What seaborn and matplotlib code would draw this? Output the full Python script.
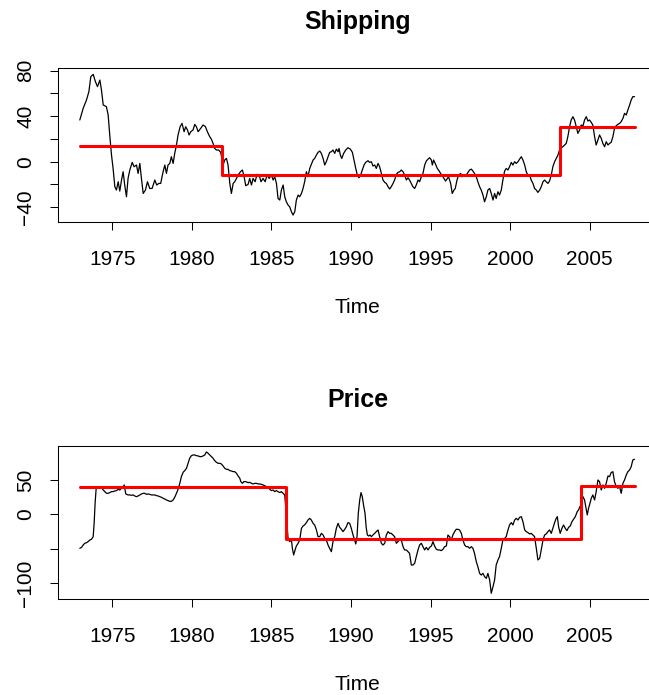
import numpy as np
import pandas as pd
import matplotlib
matplotlib.use("Agg")
import matplotlib.pyplot as plt
import seaborn as sns

# Shipping: time series (roughly monthly)
shipping_years = [
    1972.97, 1973.18, 1973.39, 1973.54, 1973.66, 1973.81, 1973.95, 1974.08, 1974.23, 1974.33,
    1974.44, 1974.64, 1974.75, 1974.85, 1974.96, 1975.06, 1975.17, 1975.27, 1975.38, 1975.48,
    1975.59, 1975.69, 1975.79, 1975.90, 1976.00, 1976.11, 1976.26, 1976.38, 1976.53, 1976.63,
    1976.74, 1976.84, 1976.95, 1977.09, 1977.22, 1977.36, 1977.51, 1977.68, 1977.80, 1977.93,
    1978.05, 1978.20, 1978.31, 1978.41, 1978.51, 1978.62, 1978.72, 1978.83, 1978.93, 1979.04,
    1979.14, 1979.27, 1979.39, 1979.52, 1979.62, 1979.73, 1979.83, 1979.94, 1980.08, 1980.19,
    1980.29, 1980.40, 1980.56, 1980.71, 1980.86, 1980.98, 1981.13, 1981.23, 1981.34, 1981.44,
    1981.55, 1981.69, 1981.82, 1981.97, 1982.07, 1982.18, 1982.28, 1982.39, 1982.49, 1982.60,
    1982.70, 1982.81, 1982.91, 1983.06, 1983.18, 1983.27, 1983.39, 1983.54, 1983.64, 1983.75,
    1983.85, 1983.98, 1984.10, 1984.23, 1984.35, 1984.48, 1984.61, 1984.73, 1984.86, 1985.00,
    1985.11, 1985.21, 1985.32, 1985.42, 1985.53, 1985.63, 1985.74, 1985.84, 1985.94, 1986.05,
    1986.15, 1986.26, 1986.36, 1986.47, 1986.57, 1986.68, 1986.78, 1986.89, 1986.99, 1987.09,
    1987.20, 1987.30, 1987.41, 1987.51, 1987.62, 1987.72, 1987.83, 1987.93, 1988.04, 1988.14,
    1988.25, 1988.35, 1988.45, 1988.56, 1988.66, 1988.77, 1988.87, 1988.98, 1989.08, 1989.19,
    1989.25, 1989.33, 1989.42, 1989.54, 1989.67, 1989.81, 1989.96, 1990.09, 1990.19, 1990.30,
    1990.40, 1990.50, 1990.61, 1990.71, 1990.82, 1990.92, 1991.07, 1991.17, 1991.28, 1991.38,
    1991.49, 1991.59, 1991.70, 1991.80, 1991.91, 1992.01, 1992.12, 1992.22, 1992.33, 1992.43,
    1992.53, 1992.64, 1992.74, 1992.85, 1992.95, 1993.06, 1993.16, 1993.27, 1993.37, 1993.48,
    1993.58, 1993.68, 1993.79, 1993.89, 1994.00, 1994.10, 1994.21, 1994.31, 1994.42, 1994.52,
    1994.63, 1994.73, 1994.84, 1994.94, 1995.05, 1995.11, 1995.19, 1995.29, 1995.42, 1995.50,
    1995.63, 1995.71, 1995.84, 1995.94, 1996.05, 1996.13, 1996.26, 1996.36, 1996.47, 1996.55,
    1996.66, 1996.76, 1996.89, 1996.97, 1997.10, 1997.24, 1997.35, 1997.45, 1997.56, 1997.66,
    1997.76, 1997.87, 1997.97, 1998.08, 1998.18, 1998.29, 1998.39, 1998.50, 1998.60, 1998.71,
    1998.81, 1998.92, 1999.02, 1999.12, 1999.23, 1999.33, 1999.44, 1999.54, 1999.65, 1999.75,
    1999.86, 1999.96, 2000.07, 2000.17, 2000.28, 2000.38, 2000.49, 2000.59, 2000.70, 2000.80,
    2000.91, 2001.01, 2001.12, 2001.22, 2001.32, 2001.43, 2001.53, 2001.64, 2001.74, 2001.85,
    2001.95, 2002.06, 2002.16, 2002.26, 2002.37, 2002.47, 2002.58, 2002.68, 2002.79, 2002.89,
    2003.00, 2003.10, 2003.21, 2003.31, 2003.42, 2003.52, 2003.62, 2003.73, 2003.83, 2003.94,
    2004.04, 2004.15, 2004.25, 2004.36, 2004.46, 2004.57, 2004.67, 2004.78, 2004.88, 2004.98,
    2005.09, 2005.19, 2005.30, 2005.40, 2005.51, 2005.61, 2005.72, 2005.82, 2005.93, 2006.03,
    2006.14, 2006.24, 2006.34, 2006.45, 2006.55, 2006.66, 2006.76, 2006.87, 2006.97, 2007.08,
    2007.18, 2007.29, 2007.39, 2007.50, 2007.60, 2007.70, 2007.81,
]
shipping_values = [
    36.7, 46.9, 54.3, 61.6, 74.8, 76.8, 70.4, 66.0, 71.8, 63.0,
    49.9, 48.4, 41.1, 23.5, 5.9, -5.9, -22.0, -24.9, -17.6, -25.8,
    -16.1, -8.8, -20.5, -30.8, -14.7, -7.3, -0.6, -4.4, -2.9, -10.3,
    -1.5, -14.7, -27.9, -24.9, -17.6, -23.5, -23.5, -16.1, -20.5, -19.1,
    -19.1, -8.8, -2.9, -10.3, -2.9, -1.5, 4.4, -1.5, 7.3, 14.7,
    23.5, 30.8, 33.7, 26.4, 30.8, 27.9, 23.5, 26.4, 27.9, 32.8,
    30.8, 26.4, 29.3, 32.3, 30.8, 26.4, 22.0, 19.9, 16.1, 11.7,
    10.3, 10.3, 8.2, -2.9, 1.5, 2.9, -2.9, -19.1, -27.9, -19.1,
    -17.6, -14.7, -11.7, -8.8, -7.3, -11.7, -21.1, -19.9, -14.7, -20.5,
    -14.7, -17.6, -11.1, -11.7, -17.6, -14.7, -17.6, -11.7, -14.7, -11.7,
    -16.1, -13.2, -19.1, -32.3, -33.7, -24.9, -20.5, -30.8, -35.2, -38.1,
    -39.6, -44.0, -46.9, -44.0, -33.7, -29.3, -30.8, -27.9, -23.5, -17.6,
    -8.8, -13.2, -5.9, -2.3, 1.5, 2.9, 5.9, 8.2, 9.4, 7.3,
    2.9, -2.9, 0.0, 4.4, 8.2, 8.8, 10.3, 7.3, 11.1, 8.8,
    11.7, 5.9, 2.9, 7.3, 10.3, 12.3, 11.1, 8.2, 1.5, -5.9,
    -11.7, -14.1, -11.7, -7.3, -2.9, -0.6, 0.9, -0.6, 0.0, -3.8,
    -2.9, -5.9, -1.5, -4.4, -10.3, -16.1, -18.2, -19.1, -22.0, -24.0,
    -22.0, -19.1, -16.1, -11.1, -9.4, -8.8, -7.3, -8.8, -11.7, -16.1,
    -14.1, -16.1, -19.1, -22.0, -23.5, -20.5, -16.1, -17.6, -13.2, -10.3,
    -2.9, 0.6, 2.3, 3.5, 1.5, -2.9, 1.5, -1.5, -5.9, -7.3,
    -10.3, -11.7, -14.7, -17.0, -14.7, -13.2, -19.1, -27.9, -24.9, -23.5,
    -16.1, -11.7, -10.3, -13.2, -11.7, -11.7, -9.4, -7.3, -6.5, -8.2,
    -10.3, -13.2, -17.6, -22.0, -24.9, -29.3, -35.2, -30.8, -24.9, -23.5,
    -27.9, -33.7, -27.9, -32.3, -26.4, -29.3, -24.9, -16.1, -8.2, -5.9,
    -7.3, -4.4, -0.6, -2.9, 0.0, -1.5, 0.0, 2.3, 4.4, 1.5,
    -2.9, -8.8, -12.3, -11.7, -16.1, -19.1, -23.5, -24.9, -27.0, -24.9,
    -22.0, -17.6, -16.1, -17.6, -19.1, -17.0, -11.7, -4.4, 0.0, 2.9,
    5.9, 10.3, 12.3, 13.2, 14.7, 16.1, 22.0, 30.8, 36.7, 39.6,
    36.7, 30.8, 24.9, 27.9, 32.3, 31.4, 36.7, 39.6, 35.8, 36.7,
    34.6, 32.3, 22.0, 14.7, 19.1, 23.5, 20.5, 16.1, 13.2, 17.6,
    14.7, 16.1, 17.0, 22.0, 29.3, 31.7, 32.8, 33.7, 35.2, 38.1,
    42.5, 41.1, 45.5, 49.9, 54.3, 57.2, 57.2,
]
# Shipping: fitted step levels and break dates
shipping_breaks = [1981.87, 2003.12]
shipping_levels = [13.5, -11.8, 30.2]

# Price: time series
price_years = [
    1972.97, 1973.08, 1973.18, 1973.28, 1973.39, 1973.49, 1973.60, 1973.70, 1973.81, 1973.87,
    1973.93, 1974.00, 1974.12, 1974.23, 1974.33, 1974.44, 1974.54, 1974.65, 1974.75, 1974.85,
    1974.96, 1975.06, 1975.17, 1975.27, 1975.38, 1975.48, 1975.59, 1975.69, 1975.76, 1975.79,
    1975.86, 1976.00, 1976.11, 1976.21, 1976.32, 1976.42, 1976.53, 1976.63, 1976.74, 1976.84,
    1976.95, 1977.05, 1977.15, 1977.26, 1977.36, 1977.47, 1977.57, 1977.68, 1977.78, 1977.89,
    1977.99, 1978.10, 1978.20, 1978.31, 1978.41, 1978.51, 1978.62, 1978.72, 1978.83, 1978.93,
    1979.04, 1979.14, 1979.25, 1979.35, 1979.46, 1979.56, 1979.67, 1979.77, 1979.87, 1979.98,
    1980.08, 1980.19, 1980.29, 1980.40, 1980.50, 1980.61, 1980.71, 1980.82, 1980.92, 1981.03,
    1981.13, 1981.24, 1981.34, 1981.44, 1981.55, 1981.65, 1981.76, 1981.86, 1981.97, 1982.07,
    1982.18, 1982.28, 1982.39, 1982.49, 1982.60, 1982.70, 1982.81, 1982.91, 1983.02, 1983.08,
    1983.18, 1983.27, 1983.39, 1983.54, 1983.64, 1983.75, 1983.85, 1983.96, 1984.06, 1984.17,
    1984.27, 1984.38, 1984.48, 1984.58, 1984.69, 1984.79, 1984.90, 1985.00, 1985.11, 1985.21,
    1985.32, 1985.42, 1985.53, 1985.63, 1985.74, 1985.84, 1985.90, 1985.99, 1986.05, 1986.15,
    1986.26, 1986.32, 1986.40, 1986.49, 1986.57, 1986.68, 1986.78, 1986.89, 1986.99, 1987.09,
    1987.20, 1987.30, 1987.41, 1987.51, 1987.62, 1987.72, 1987.83, 1987.93, 1988.04, 1988.14,
    1988.25, 1988.35, 1988.45, 1988.56, 1988.66, 1988.77, 1988.87, 1988.98, 1989.08, 1989.19,
    1989.29, 1989.40, 1989.50, 1989.61, 1989.71, 1989.81, 1989.92, 1990.02, 1990.13, 1990.23,
    1990.30, 1990.38, 1990.46, 1990.55, 1990.63, 1990.71, 1990.80, 1990.88, 1990.96, 1991.03,
    1991.11, 1991.20, 1991.28, 1991.38, 1991.49, 1991.59, 1991.70, 1991.80, 1991.91, 1992.01,
    1992.12, 1992.22, 1992.33, 1992.43, 1992.53, 1992.64, 1992.74, 1992.85, 1992.95, 1993.06,
    1993.16, 1993.27, 1993.37, 1993.48, 1993.58, 1993.68, 1993.79, 1993.89, 1994.00, 1994.10,
    1994.21, 1994.31, 1994.42, 1994.52, 1994.63, 1994.73, 1994.84, 1994.94, 1995.05, 1995.15,
    1995.25, 1995.36, 1995.46, 1995.57, 1995.67, 1995.78, 1995.88, 1995.99, 1996.09, 1996.19,
    1996.30, 1996.40, 1996.51, 1996.61, 1996.72, 1996.82, 1996.93, 1997.03, 1997.14, 1997.24,
    1997.35, 1997.45, 1997.56, 1997.66, 1997.76, 1997.87, 1997.97, 1998.08, 1998.18, 1998.29,
    1998.39, 1998.50, 1998.60, 1998.71, 1998.81, 1998.92, 1999.02, 1999.12, 1999.23, 1999.33,
    1999.44, 1999.54, 1999.65, 1999.75, 1999.86, 1999.96, 2000.07, 2000.17, 2000.28, 2000.38,
    2000.49, 2000.59, 2000.70, 2000.80, 2000.91, 2001.01, 2001.12, 2001.22, 2001.32, 2001.43,
    2001.53, 2001.64, 2001.74, 2001.85, 2001.95, 2002.06, 2002.16, 2002.26, 2002.37, 2002.47,
    2002.58, 2002.68, 2002.79, 2002.89, 2002.96, 2003.04, 2003.14, 2003.25, 2003.35, 2003.46,
    2003.56, 2003.67, 2003.77, 2003.88, 2003.98, 2004.09, 2004.21, 2004.29, 2004.38, 2004.46,
    2004.57, 2004.67, 2004.78, 2004.84, 2004.92, 2005.01, 2005.09, 2005.19, 2005.30, 2005.40,
    2005.51, 2005.61, 2005.72, 2005.82, 2005.93, 2006.03, 2006.14, 2006.24, 2006.34, 2006.45,
    2006.55, 2006.66, 2006.76, 2006.87, 2006.97, 2007.08, 2007.18, 2007.29, 2007.39, 2007.50,
    2007.60, 2007.70, 2007.81,
]
price_values = [
    -49.5, -48.1, -44.7, -42.2, -41.3, -39.8, -37.4, -36.4, -32.5, -13.1,
    16.0, 38.8, 39.3, 40.3, 39.3, 35.4, 33.0, 30.6, 30.6, 31.6,
    33.0, 33.0, 34.0, 34.5, 36.4, 35.4, 37.9, 40.3, 42.7, 37.9,
    29.6, 28.2, 28.2, 27.7, 28.2, 26.7, 25.7, 26.7, 28.2, 29.6,
    30.6, 30.6, 29.1, 29.6, 29.1, 28.2, 28.2, 28.2, 27.2, 26.7,
    25.7, 24.8, 23.3, 22.3, 20.9, 19.9, 18.9, 18.9, 20.9, 24.8,
    30.6, 36.4, 45.1, 54.9, 61.2, 63.6, 67.0, 74.3, 81.6, 85.4,
    86.4, 86.4, 85.4, 85.0, 84.0, 84.0, 85.0, 86.4, 90.8, 88.8,
    86.4, 84.0, 81.6, 78.2, 75.7, 74.3, 74.3, 73.3, 70.4, 67.0,
    65.5, 65.5, 63.6, 63.1, 62.1, 62.1, 59.7, 55.8, 52.4, 47.6,
    45.1, 47.6, 47.6, 46.1, 46.6, 45.1, 44.2, 45.1, 45.1, 44.2,
    44.2, 43.7, 42.7, 41.7, 40.3, 40.3, 36.4, 34.5, 35.4, 33.0,
    34.5, 33.0, 31.6, 33.0, 30.6, 28.2, 11.2, -18.0, -35.0, -39.8,
    -37.4, -49.5, -59.2, -51.9, -46.1, -42.2, -37.4, -20.4, -17.0, -15.5,
    -12.1, -8.3, -5.8, -8.3, -13.1, -15.5, -22.8, -32.5, -32.5, -27.7,
    -30.1, -35.0, -37.4, -44.7, -49.5, -54.4, -39.8, -32.5, -20.4, -13.1,
    -18.9, -21.8, -25.2, -21.8, -18.0, -12.1, -13.1, -20.4, -30.1, -37.4,
    -43.2, -32.5, 1.5, 20.9, 31.6, 25.7, 12.0, 2.0, -20.0, -30.1,
    -31.6, -30.1, -32.5, -30.1, -27.7, -25.2, -22.8, -32.5, -42.2, -44.7,
    -42.2, -30.1, -25.2, -27.7, -27.7, -30.1, -32.5, -42.2, -39.8, -36.4,
    -37.4, -47.1, -51.9, -51.9, -54.4, -56.8, -73.8, -73.8, -71.4, -61.7,
    -51.9, -44.7, -42.2, -47.1, -51.9, -48.1, -51.9, -48.1, -46.1, -39.8,
    -46.1, -50.9, -51.9, -51.9, -52.9, -50.9, -47.1, -46.1, -30.1, -32.5,
    -37.4, -30.1, -25.2, -21.8, -21.8, -22.8, -27.7, -37.4, -44.7, -47.1,
    -47.1, -49.5, -47.1, -49.5, -56.8, -68.9, -76.3, -86.0, -88.4, -86.0,
    -90.8, -93.2, -86.0, -95.6, -115.0, -105.3, -95.6, -73.8, -66.5, -61.7,
    -49.5, -37.4, -35.0, -32.5, -22.8, -15.5, -12.1, -15.5, -8.3, -5.8,
    -8.3, -4.4, -3.4, -10.7, -22.8, -25.2, -26.7, -28.6, -27.7, -30.1,
    -32.5, -49.5, -66.5, -64.1, -51.9, -37.4, -30.1, -28.6, -25.2, -22.8,
    -27.7, -20.4, -12.1, -5.8, -3.4, -18.0, -27.7, -20.4, -15.5, -20.4,
    -23.8, -18.9, -17.0, -10.7, -7.3, -3.4, 3.9, 6.3, 11.2, 13.6,
    25.7, 20.9, 6.3, -1.0, 8.7, 16.0, 23.3, 28.2, 20.9, 33.0,
    50.0, 47.6, 35.4, 42.7, 37.9, 45.1, 55.8, 54.9, 60.7, 62.1,
    47.6, 40.3, 37.9, 40.3, 30.6, 45.1, 50.0, 57.3, 62.1, 64.6,
    69.4, 79.1, 80.1,
]
price_breaks = [1985.95, 2004.43]
price_levels = [39.8, -35.9, 41.7]

year_ticks = [1975, 1980, 1985, 1990, 1995, 2000, 2005]
shipping_yticks = [-40, -20, 0, 20, 40, 60, 80]
shipping_ylabels = ["\u221240", "", "0", "", "40", "", "80"]
price_yticks = [-100, -50, 0, 50]
price_ylabels = ["\u2212100", "", "0", "50"]


def step_frame(start, end, breaks, levels):
    xs = [start]
    ys = [levels[0]]
    for b, lo, hi in zip(breaks, levels[:-1], levels[1:]):
        xs += [b, b]
        ys += [lo, hi]
    xs.append(end)
    ys.append(levels[-1])
    return pd.DataFrame({"year": xs, "value": ys})


def panel(ax, title, years, values, breaks, levels, yticks, ylabels, ylim):
    serie = pd.DataFrame({"year": years, "value": values})
    sns.lineplot(data=serie, x="year", y="value", ax=ax, color="black",
                 linewidth=0.9, estimator=None, sort=False)
    escalon = step_frame(years[0], years[-1], breaks, levels)
    sns.lineplot(data=escalon, x="year", y="value", ax=ax, color="#ff0000",
                 linewidth=2.2, estimator=None, sort=False)
    ax.set_xlim(1971.6, 2009.22)
    ax.set_ylim(*ylim)
    ax.set_xticks(year_ticks)
    ax.set_xticklabels([str(t) for t in year_ticks])
    ax.set_yticks(yticks)
    ax.set_yticklabels(ylabels, rotation=90, va="center")
    ax.tick_params(axis="x", direction="out", length=5.8, width=0.75,
                   labelsize=15, pad=14.2, color="black", labelcolor="black")
    ax.tick_params(axis="y", direction="out", length=5.8, width=0.75,
                   labelsize=15, pad=10.5, color="black", labelcolor="black")
    for s in ax.spines.values():
        s.set_visible(True)
        s.set_color("black")
        s.set_linewidth(0.75)
    ax.set_title(title, fontsize=18, fontweight="bold", pad=28, color="black")
    ax.set_xlabel("Time", fontsize=15, labelpad=21, color="black")
    ax.set_ylabel("")


sns.set_style("ticks")
plt.rcParams["font.family"] = ["Liberation Sans", "DejaVu Sans"]
plt.rcParams["axes.unicode_minus"] = True
plt.rcParams["text.color"] = "black"

fig = plt.figure(figsize=(6.49, 6.95), dpi=100)
W, H = 649.0, 695.0
ax1 = fig.add_axes([58 / W, 1 - 222 / H, (657 - 58) / W, (222 - 68) / H])
ax2 = fig.add_axes([58 / W, 1 - 599 / H, (657 - 58) / W, (599 - 445.7) / H])

panel(ax1, "Shipping", shipping_years, shipping_values, shipping_breaks,
      shipping_levels, shipping_yticks, shipping_ylabels, (-53.0, 82.4))
panel(ax2, "Price", price_years, price_values, price_breaks,
      price_levels, price_yticks, price_ylabels, (-123.3, 99.9))

fig.savefig("out.png", dpi=100, facecolor="white")
